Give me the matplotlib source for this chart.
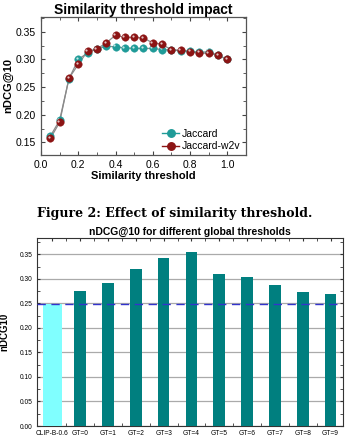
import matplotlib
matplotlib.use("Agg")
import matplotlib.pyplot as plt
import matplotlib.transforms as mtransforms
from matplotlib.ticker import MultipleLocator

plt.rcParams["font.family"] = ["Liberation Sans", "DejaVu Sans"]

# similarity threshold sweep
thresholds = [0.05, 0.10, 0.15, 0.20, 0.25, 0.30, 0.35, 0.40, 0.45, 0.50,
              0.55, 0.60, 0.65, 0.70, 0.75, 0.80, 0.85, 0.90, 0.95, 1.00]
jaccard = [0.161, 0.190, 0.265, 0.300, 0.312, 0.319, 0.324, 0.323, 0.321, 0.320,
           0.320, 0.320, 0.318, 0.317, 0.316, 0.315, 0.313, 0.314, 0.308, 0.300]
jaccard_w2v = [0.157, 0.186, 0.266, 0.291, 0.315, 0.319, 0.330, 0.344, 0.340, 0.340,
               0.339, 0.330, 0.328, 0.317, 0.317, 0.314, 0.312, 0.311, 0.308, 0.300]

# global thresholds bar chart
bar_labels = ["CLIP-B-0.6", "GT=0", "GT=1", "GT=2", "GT=3", "GT=4",
              "GT=5", "GT=6", "GT=7", "GT=8", "GT=9"]
bar_values = [0.249, 0.275, 0.291, 0.321, 0.343, 0.355,
              0.309, 0.303, 0.287, 0.274, 0.270]
baseline = 0.249

fig = plt.figure(figsize=(3.49, 4.41), dpi=100)

# ---- top chart ----
ax1 = fig.add_axes([0.1175, 0.6485, 0.587, 0.313])
ax1.plot(thresholds, jaccard, color="#8a8a8a", lw=0.9, zorder=1)
ax1.plot(thresholds, jaccard_w2v, color="#8a8a8a", lw=0.9, zorder=1)

hl = mtransforms.offset_copy(ax1.transData, fig=fig, x=-1.0, y=1.0, units="points")
for ys, col, lab, z in [(jaccard, "#1f9b98", "Jaccard", 2),
                        (jaccard_w2v, "#8c1414", "Jaccard-w2v", 3)]:
    ax1.plot(thresholds, ys, ls="none", marker="o", ms=5.4, mfc=col,
             mec=col, mew=0.3, zorder=z)
    ax1.plot(thresholds, ys, ls="none", marker="o", ms=1.6, mfc="white",
             mec="none", alpha=0.75, transform=hl, zorder=z)
    ax1.plot([], [], color=col, marker="o", ms=5.4, lw=1.0, label=lab)

ax1.set_xlim(0, 1.1)
ax1.set_ylim(0.127, 0.377)
ax1.xaxis.set_major_locator(MultipleLocator(0.2))
ax1.xaxis.set_minor_locator(MultipleLocator(0.1))
ax1.yaxis.set_major_locator(MultipleLocator(0.05))
ax1.yaxis.set_minor_locator(MultipleLocator(0.025))
ax1.tick_params(which="both", direction="in", top=True, right=True,
                labelsize=7.5, color="#444444")
ax1.tick_params(which="major", length=3)
ax1.tick_params(which="minor", length=2)
ax1.xaxis.set_major_formatter(plt.FuncFormatter(lambda v, p: f"{v:.1f}"))
ax1.yaxis.set_major_formatter(plt.FuncFormatter(lambda v, p: f"{v:.2f}"))
for s in ax1.spines.values():
    s.set_color("#555555")
    s.set_linewidth(0.9)
ax1.set_title("Similarity threshold impact", fontsize=10, fontweight="bold", pad=2)
ax1.set_xlabel("Similarity threshold", fontsize=8, fontweight="bold", labelpad=1)
ax1.set_ylabel("nDCG@10", fontsize=8, fontweight="bold", labelpad=2)
ax1.legend(loc="lower right", bbox_to_anchor=(1.0, -0.01), frameon=False,
           fontsize=7.5, handlelength=1.6, handletextpad=0.3, labelspacing=0.2,
           borderaxespad=0.1)

fig.text(0.5, 1 - 213 / 441, "Figure 2: Effect of similarity threshold.",
         ha="center", va="center", fontsize=9, fontweight="bold",
         family="DejaVu Serif")

# ---- bottom chart ----
ax2 = fig.add_axes([0.106, 0.034, 0.877, 0.426])
xs = list(range(len(bar_labels)))
widths = [0.68] + [0.42] * (len(bar_labels) - 1)
colors = ["#80ffff"] + ["#007f7f"] * (len(bar_labels) - 1)
ax2.bar(xs, bar_values, width=widths, color=colors, zorder=3)
ax2.axhline(baseline, color="#3333cc", ls=(0, (6, 4)), lw=1.0, zorder=4)
ax2.set_xlim(-0.55, 10.45)
ax2.set_ylim(0, 0.383)
ax2.yaxis.set_major_locator(MultipleLocator(0.05))
ax2.yaxis.set_minor_locator(MultipleLocator(0.025))
ax2.set_xticks(xs)
ax2.set_xticklabels(bar_labels)
ax2.set_xticks([x + 0.5 for x in xs[:-1]], minor=True)
ax2.yaxis.set_major_formatter(plt.FuncFormatter(lambda v, p: f"{v:.2f}"))
ax2.grid(axis="y", which="major", color="#aaaaaa", lw=0.9, zorder=0)
ax2.tick_params(which="both", direction="in", top=True, right=True,
                labelsize=4.8, color="#333333", length=2.5)
ax2.tick_params(axis="x", pad=3)
for s in ax2.spines.values():
    s.set_color("#333333")
    s.set_linewidth(0.8)
ax2.set_title("nDCG@10 for different global thresholds", fontsize=7.5,
              fontweight="bold", pad=2)
ax2.set_ylabel("nDCG10", fontsize=7, fontweight="bold", labelpad=7)

fig.savefig("out.png", dpi=100)
